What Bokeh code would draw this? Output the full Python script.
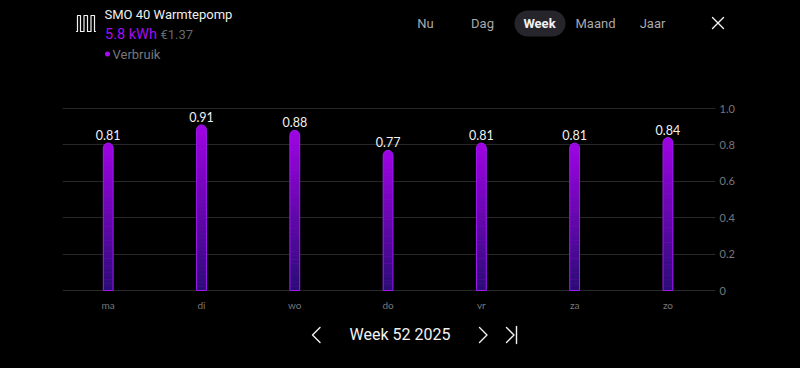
from bokeh.plotting import figure
from bokeh.embed import file_html
from bokeh.resources import INLINE
from bokeh.models import Range1d, FixedTicker
from bokeh.core.properties import value

days = ["ma", "di", "wo", "do", "vr", "za", "zo"]
usage = [0.81, 0.91, 0.88, 0.77, 0.81, 0.81, 0.84]
labels = ["0.81", "0.91", "0.88", "0.77", "0.81", "0.81", "0.84"]
y_ticks = [0, 0.2, 0.4, 0.6, 0.8, 1.0]
periods = ["Nu", "Dag", "Week", "Maand", "Jaar"]
period_x = [425, 482, 539, 595, 652]

# page-pixel geometry of the plot frame (one pixel of slack so the 0 and 1.0 grid lines draw)
L, R, T, B = 62, 715, 107, 291
W, H = 784, 352
SLACK = 1 / 182

pos = list(range(len(days)))

p = figure(width=W, height=H, output_backend="svg", toolbar_location=None,
           x_range=Range1d(-0.49, len(days) - 0.49),
           y_range=Range1d(-SLACK, 1.0 + SLACK),
           x_axis_location="below", y_axis_location="right",
           min_border_left=L - 8, min_border_right=8 + W - R,
           min_border_top=T - 8, min_border_bottom=8 + H - B,
           background_fill_color="#000000", border_fill_color="#000000", outline_line_color=None)

# chrome is placed in page pixels, with a 1px upward correction
p.extra_x_ranges["px"] = Range1d(L, R)
p.extra_y_ranges["px"] = Range1d(B + 1, T + 1)

# axes
p.xgrid.visible = False
p.ygrid.grid_line_color = "#28282a"
p.ygrid.grid_line_width = 1
p.ygrid.ticker = FixedTicker(ticks=y_ticks)
ay = p.yaxis[0]
ay.ticker = FixedTicker(ticks=y_ticks)
ay.major_label_overrides = {0: "0", 0.2: "0.2", 0.4: "0.4", 0.6: "0.6", 0.8: "0.8", 1.0: "1.0"}
ay.axis_line_color = None
ay.major_tick_line_color = None
ay.minor_tick_line_color = None
ay.major_tick_out = 0
ay.major_label_text_color = "#77777c"
ay.major_label_text_font = "Lato"
ay.major_label_text_font_size = "11px"
ay.major_label_text_baseline = "alphabetic"
ay.major_label_standoff = 4
ax = p.xaxis[0]
ax.ticker = FixedTicker(ticks=pos)
ax.major_label_overrides = dict(zip(pos, days))
ax.axis_line_color = None
ax.major_tick_line_color = None
ax.minor_tick_line_color = None
ax.major_tick_out = 0
ax.major_label_text_color = "#77777c"
ax.major_label_text_font = "Lato"
ax.major_label_text_font_size = "10px"
ax.major_label_standoff = 7

# bars with a vertical gradient, built from the values
BW = 0.105
TOP = (155, 4, 224)
BOT = (42, 12, 118)
N = 40
def mix(f):
    return "#%02x%02x%02x" % tuple(round(b + (t - b) * f) for t, b in zip(TOP, BOT))

seg_x, seg_top, seg_bot, seg_col = [], [], [], []
for d, v in zip(pos, usage):
    lim = v - 0.03
    for i in range(N):
        seg_x.append(d)
        seg_bot.append(lim * i / N)
        seg_top.append(lim * (i + 1) / N + 0.001)
        seg_col.append(mix((i + 0.5) / N))

RAD = {"top_left": 5, "top_right": 5, "bottom_left": 0, "bottom_right": 0}
p.vbar(x=pos, top=usage, bottom=0, width=BW, fill_color="#9b04e0", line_color=None, border_radius=RAD)
p.vbar(x=seg_x, top=seg_top, bottom=seg_bot, width=BW, fill_color=seg_col, line_color=None)
p.vbar(x=pos, top=usage, bottom=0, width=BW, fill_color=None, line_color="#a018f2", line_width=1, border_radius=RAD)

p.text(x=pos, y=usage, text=labels, text_color="#f2f2f2", text_font=value("Lato"),
       text_font_size="12.5px", text_align="center", text_baseline="middle", y_offset=-8)

def txt(x, y, s, color, size, font="Roboto", align="left", style="normal"):
    p.text(x=[x], y=[y], text=[s], text_color=color, text_font=value(font), text_font_size=size,
           text_align=align, text_baseline="middle", text_font_style=style,
           x_range_name="px", y_range_name="px", level="overlay")

def stroke(xs, ys, color="#f2f2f2", width=1.4):
    p.line(x=xs, y=ys, line_color=color, line_width=width, line_cap="round", line_join="round",
           x_range_name="px", y_range_name="px", level="overlay")

txt(104, 15, "SMO 40 Warmtepomp", "#eeeeee", "13px")
txt(104.5, 35, "5.8 kWh", "#a50cf5", "14.5px")
txt(160, 35, "€1.37", "#66666b", "13px")
p.quad(left=[104.5], right=[109.5], top=[52], bottom=[57], fill_color="#a50cf5", line_color=None,
       border_radius=3, x_range_name="px", y_range_name="px", level="overlay")
txt(112, 55, "Verbruik", "#77777c", "13px")

# serpentine heating icon
stroke([76, 77, 77, 80, 80, 83.5, 83.5, 87, 87, 90.5, 90.5, 94, 94, 95],
       [32, 32, 16, 16, 32, 32, 16, 16, 32, 32, 16, 16, 32, 32], "#f2f2f2", 1.2)

# period switch
p.quad(left=[514], right=[565], top=[11], bottom=[37], fill_color="#26252b", line_color=None,
       border_radius=13, x_range_name="px", y_range_name="px", level="overlay")
for s, x in zip(periods, period_x):
    sel = s == "Week"
    txt(x, 23.5, s, "#f2f2f2" if sel else "#a8a8ac", "13px", align="center", style="bold" if sel else "normal")

# close cross
stroke([712, 723], [18, 29])
stroke([723, 712], [18, 29])

# week navigation
txt(399.5, 335, "Week 52 2025", "#f2f2f2", "16px", align="center")
stroke([319.5, 312, 319.5], [328, 335.5, 343])
stroke([479, 486.5, 479], [328, 335.5, 343])
stroke([506, 513.5, 506], [328, 335.5, 343])
stroke([516, 516], [327, 344])

html = file_html(p, INLINE, "SMO 40 Warmtepomp")
html = html.replace("</head>", "<style>html,body{background:#000;box-sizing:border-box;overflow:hidden}body{padding:8px !important}</style></head>", 1)
open("out.html", "w").write(html)
